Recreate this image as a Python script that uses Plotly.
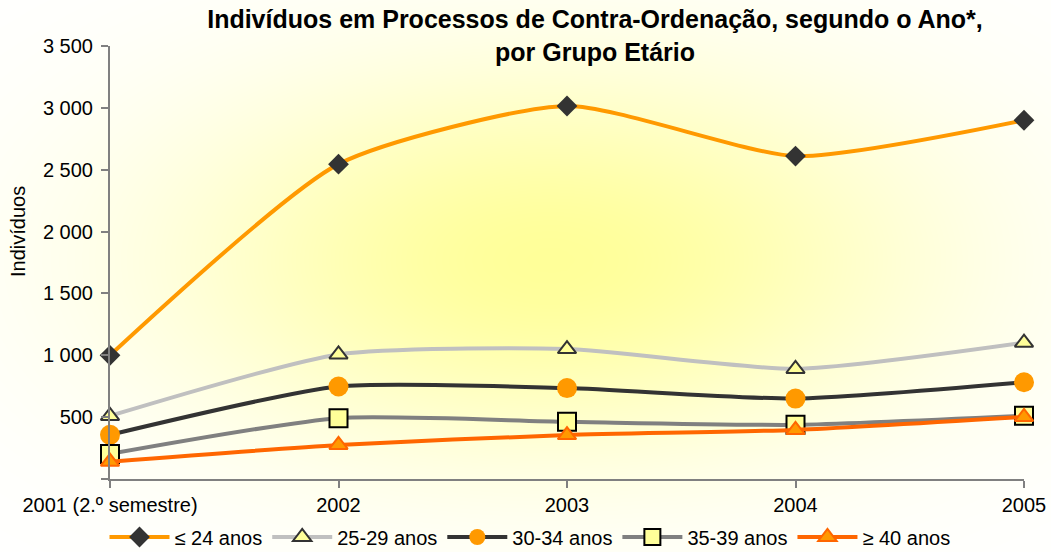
import numpy as np
import plotly.graph_objects as go

# ---- data ----
years = ["2001 (2.º semestre)", "2002", "2003", "2004", "2005"]
series_names = ["≤ 24 anos", "25-29 anos", "30-34 anos", "35-39 anos", "≥ 40 anos"]
le24 = [1000, 2545, 3015, 2610, 2900]
a25_29 = [510, 1007, 1050, 890, 1102]
a30_34 = [357, 748, 735, 650, 782]
a35_39 = [203, 492, 462, 438, 512]
ge40 = [140, 275, 355, 397, 502]
y_tick_vals = [0, 500, 1000, 1500, 2000, 2500, 3000, 3500]
y_tick_text = ["", "500", "1 000", "1 500", "2 000", "2 500", "3 000", "3 500"]

title_text = "Indivíduos em Processos de Contra-Ordenação, segundo o Ano*,<br>por Grupo Etário"
y_title = "Indivíduos"

W, H = 1051, 552
PL, PR, PT, PB = 110, 1024, 46, 479  # plot area in px

FONT = "Arial, 'Liberation Sans', sans-serif"

fig = go.Figure()

# ---- background radial gradient (decoration) on full-figure axes ----
gx = np.linspace(0, W, 90)
gy = np.linspace(0, H, 50)
GX, GY = np.meshgrid(gx, gy)
cx, cy, sx, sy = 550, 260, 370, 190
Z = np.exp(-(((GX - cx) / sx) ** 2 + ((GY - cy) / sy) ** 2))
fig.add_trace(go.Heatmap(
    x=gx, y=gy, z=Z, zmin=0, zmax=1, zsmooth="best",
    colorscale=[[0, "#FFFFFF"], [1, "#FFFF99"]], showscale=False,
    hoverinfo="skip", xaxis="x", yaxis="y", showlegend=False,
))

xs = list(range(len(years)))
styles = [
    (le24, dict(color="#FF9900", width=4), dict(symbol="diamond", size=16, color="#333333", line=dict(width=0))),
    (a25_29, dict(color="#C0C0C0", width=4), dict(symbol="triangle-up", size=16, color="#FFFF99", line=dict(color="#333333", width=2))),
    (a30_34, dict(color="#333333", width=4), dict(symbol="circle", size=20, color="#FF9900", line=dict(width=0))),
    (a35_39, dict(color="#808080", width=4), dict(symbol="square", size=18, color="#FFFF99", line=dict(color="#000000", width=2))),
    (ge40, dict(color="#FF6600", width=4), dict(symbol="triangle-up", size=16, color="#FF9900", line=dict(color="#FF6600", width=2))),
]
for name, (vals, ln, mk) in zip(series_names, styles):
    fig.add_trace(go.Scatter(
        x=xs, y=vals, name=name, mode="lines+markers",
        line=dict(shape="spline", smoothing=0.6, **ln), marker=mk,
        xaxis="x2", yaxis="y2", cliponaxis=False,
    ))

fig.update_layout(
    width=W, height=H,
    margin=dict(l=0, r=0, t=0, b=0, autoexpand=False),
    paper_bgcolor="#FFFFFF",
    plot_bgcolor="rgba(0,0,0,0)",
    font=dict(family=FONT, size=20, color="#000000"),
    xaxis=dict(domain=[0, 1], range=[0, W], visible=False, fixedrange=True),
    yaxis=dict(domain=[0, 1], range=[H, 0], visible=False, fixedrange=True),
    xaxis2=dict(
        domain=[PL / W, PR / W], anchor="y2", range=[0, 4],
        tickvals=xs, ticktext=years, showline=True, linecolor="#808080", linewidth=2,
        ticks="outside", tickcolor="#808080", tickwidth=2, ticklen=7,
        showgrid=False, zeroline=False, tickfont=dict(size=20), automargin=False,
    ),
    yaxis2=dict(
        domain=[(H - PB) / H, (H - PT) / H], anchor="x2", range=[0, 3500],
        tickvals=y_tick_vals, ticktext=y_tick_text, showline=True, linecolor="#808080", linewidth=2,
        ticks="outside", tickcolor="#808080", tickwidth=2, ticklen=7,
        showgrid=False, zeroline=False, tickfont=dict(size=20), ticklabelstandoff=4,
        automargin=False,
    ),
    title=dict(
        text=title_text, x=595 / W, xanchor="center", y=1 - 28 / H, yanchor="middle",
        font=dict(family=FONT, size=25, color="#000000", weight="bold"),
    ),
    legend=dict(
        orientation="h", x=530 / W, xanchor="center", y=1 - 537 / H, yanchor="middle",
        bgcolor="rgba(0,0,0,0)", font=dict(size=20), itemwidth=60,
    ),
    annotations=[dict(
        text=y_title, textangle=-90, x=18 / W, y=1 - 232 / H, xref="paper", yref="paper",
        xanchor="center", yanchor="middle", showarrow=False, font=dict(size=20),
    )],
)

fig.write_html(
    "out.html",
    config={"displayModeBar": False},
    post_script="document.body.style.margin='0';document.body.style.overflow='hidden';",
)
